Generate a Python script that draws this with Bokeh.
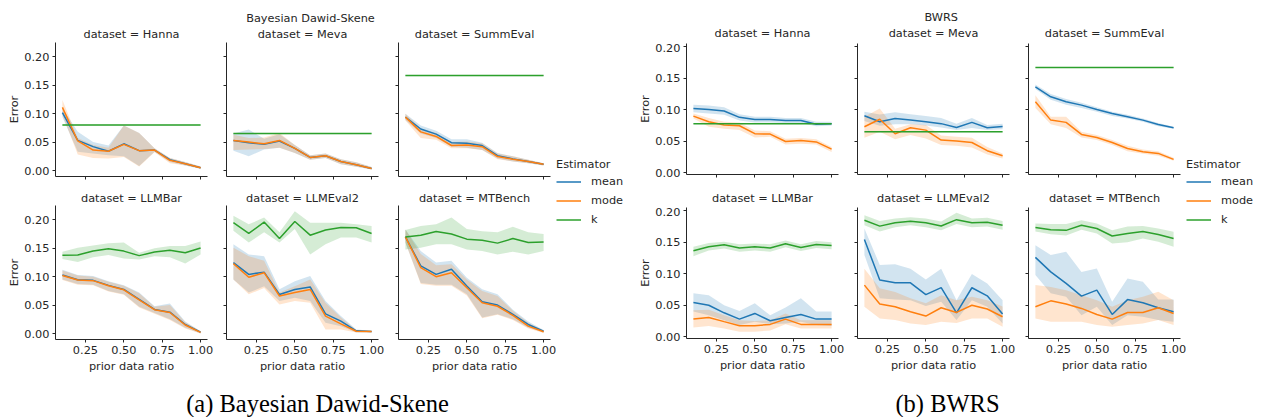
from bokeh.plotting import figure
from bokeh.models import (Range1d, FixedTicker, NumeralTickFormatter, CustomJSTickFormatter,
                          Label, Legend, LegendItem, ColumnDataSource)
from bokeh.layouts import row, column
from bokeh.embed import file_html
from bokeh.resources import INLINE

# ---------------- data ----------------
RATIO = [0.1, 0.2, 0.3, 0.4, 0.5, 0.6, 0.7, 0.8, 0.9, 1.0]
ESTIMATORS = ["mean", "mode", "k"]
X_TICKS = [0.25, 0.5, 0.75, 1.0]
Y_TICKS = [0.0, 0.05, 0.10, 0.15, 0.20]
DATASETS_TOP = ["Hanna", "Meva", "SummEval"]
DATASETS_BOTTOM = ["LLMBar", "LLMEval2", "MTBench"]

# (a) Bayesian Dawid-Skene
A_HANNA_MEAN = [0.102, 0.053, 0.042, 0.034, 0.047, 0.035, 0.036, 0.019, 0.012, 0.005]
A_HANNA_MEAN_LO = [0.094, 0.033, 0.030, 0.027, 0.025, 0.008, 0.033, 0.015, 0.009, 0.003]
A_HANNA_MEAN_HI = [0.110, 0.068, 0.050, 0.044, 0.079, 0.066, 0.039, 0.022, 0.015, 0.007]
A_HANNA_MODE = [0.111, 0.052, 0.036, 0.034, 0.046, 0.035, 0.036, 0.018, 0.012, 0.005]
A_HANNA_MODE_LO = [0.098, 0.028, 0.022, 0.021, 0.024, 0.007, 0.032, 0.013, 0.009, 0.003]
A_HANNA_MODE_HI = [0.124, 0.057, 0.045, 0.040, 0.079, 0.066, 0.039, 0.022, 0.015, 0.007]
A_HANNA_K = [0.080, 0.080, 0.080, 0.080, 0.080, 0.080, 0.080, 0.080, 0.080, 0.080]
A_HANNA_K_LO = [0.079, 0.079, 0.079, 0.079, 0.079, 0.079, 0.079, 0.079, 0.079, 0.079]
A_HANNA_K_HI = [0.081, 0.081, 0.081, 0.081, 0.081, 0.081, 0.081, 0.081, 0.081, 0.081]

A_MEVA_MEAN = [0.053, 0.049, 0.046, 0.052, 0.039, 0.023, 0.026, 0.016, 0.010, 0.0035]
A_MEVA_MEAN_LO = [0.035, 0.025, 0.037, 0.040, 0.031, 0.019, 0.022, 0.011, 0.0065, 0.002]
A_MEVA_MEAN_HI = [0.065, 0.072, 0.056, 0.064, 0.045, 0.027, 0.030, 0.020, 0.0145, 0.006]
A_MEVA_MODE = [0.053, 0.050, 0.047, 0.053, 0.039, 0.023, 0.026, 0.016, 0.010, 0.0035]
A_MEVA_MODE_LO = [0.036, 0.037, 0.038, 0.040, 0.031, 0.019, 0.022, 0.011, 0.0065, 0.002]
A_MEVA_MODE_HI = [0.063, 0.057, 0.058, 0.066, 0.045, 0.027, 0.030, 0.020, 0.0145, 0.006]
A_MEVA_K = [0.065, 0.065, 0.065, 0.065, 0.065, 0.065, 0.065, 0.065, 0.065, 0.065]
A_MEVA_K_LO = [0.064, 0.064, 0.064, 0.064, 0.064, 0.064, 0.064, 0.064, 0.064, 0.064]
A_MEVA_K_HI = [0.066, 0.066, 0.066, 0.066, 0.066, 0.066, 0.066, 0.066, 0.066, 0.066]

A_SUMM_MEAN = [0.094, 0.073, 0.064, 0.049, 0.048, 0.044, 0.026, 0.0205, 0.0158, 0.011]
A_SUMM_MEAN_LO = [0.089, 0.065, 0.057, 0.042, 0.040, 0.036, 0.021, 0.016, 0.013, 0.009]
A_SUMM_MEAN_HI = [0.100, 0.079, 0.070, 0.055, 0.055, 0.049, 0.031, 0.025, 0.019, 0.013]
A_SUMM_MODE = [0.094, 0.068, 0.060, 0.044, 0.045, 0.042, 0.0246, 0.020, 0.016, 0.011]
A_SUMM_MODE_LO = [0.088, 0.057, 0.054, 0.039, 0.039, 0.036, 0.020, 0.016, 0.013, 0.009]
A_SUMM_MODE_HI = [0.100, 0.074, 0.066, 0.050, 0.051, 0.048, 0.030, 0.025, 0.019, 0.013]
A_SUMM_K = [0.167, 0.167, 0.167, 0.167, 0.167, 0.167, 0.167, 0.167, 0.167, 0.167]
A_SUMM_K_LO = [0.166, 0.166, 0.166, 0.166, 0.166, 0.166, 0.166, 0.166, 0.166, 0.166]
A_SUMM_K_HI = [0.168, 0.168, 0.168, 0.168, 0.168, 0.168, 0.168, 0.168, 0.168, 0.168]

A_LLMBAR_MEAN = [0.103, 0.0947, 0.0935, 0.0847, 0.0776, 0.060, 0.0424, 0.0376, 0.0159, 0.0024]
A_LLMBAR_MEAN_LO = [0.095, 0.087, 0.086, 0.075, 0.069, 0.047, 0.036, 0.025, 0.010, 0.000]
A_LLMBAR_MEAN_HI = [0.112, 0.103, 0.101, 0.092, 0.085, 0.072, 0.048, 0.053, 0.021, 0.004]
A_LLMBAR_MODE = [0.102, 0.094, 0.093, 0.084, 0.077, 0.059, 0.042, 0.037, 0.015, 0.002]
A_LLMBAR_MODE_LO = [0.094, 0.086, 0.085, 0.074, 0.068, 0.046, 0.035, 0.024, 0.009, 0.000]
A_LLMBAR_MODE_HI = [0.111, 0.102, 0.100, 0.091, 0.084, 0.071, 0.047, 0.050, 0.020, 0.004]
A_LLMBAR_K = [0.1376, 0.138, 0.145, 0.149, 0.145, 0.137, 0.1435, 0.1465, 0.142, 0.1506]
A_LLMBAR_K_LO = [0.131, 0.126, 0.134, 0.138, 0.132, 0.130, 0.136, 0.134, 0.123, 0.139]
A_LLMBAR_K_HI = [0.144, 0.151, 0.155, 0.159, 0.160, 0.142, 0.150, 0.154, 0.154, 0.162]

A_LLMEVAL2_MEAN = [0.1247, 0.104, 0.108, 0.0688, 0.0776, 0.082, 0.0347, 0.0218, 0.0047, 0.0035]
A_LLMEVAL2_MEAN_LO = [0.095, 0.072, 0.083, 0.057, 0.063, 0.057, 0.019, 0.013, 0.002, 0.002]
A_LLMEVAL2_MEAN_HI = [0.157, 0.139, 0.136, 0.078, 0.092, 0.101, 0.057, 0.031, 0.007, 0.005]
A_LLMEVAL2_MODE = [0.123, 0.099, 0.107, 0.066, 0.072, 0.0776, 0.0306, 0.017, 0.004, 0.0035]
A_LLMEVAL2_MODE_LO = [0.095, 0.069, 0.080, 0.051, 0.057, 0.054, 0.007, 0.007, 0.002, 0.002]
A_LLMEVAL2_MODE_HI = [0.151, 0.136, 0.128, 0.072, 0.083, 0.095, 0.054, 0.028, 0.006, 0.005]
A_LLMEVAL2_K = [0.195, 0.176, 0.196, 0.167, 0.197, 0.173, 0.182, 0.1865, 0.186, 0.176]
A_LLMEVAL2_K_LO = [0.181, 0.160, 0.178, 0.160, 0.184, 0.139, 0.157, 0.169, 0.169, 0.160]
A_LLMEVAL2_K_HI = [0.207, 0.192, 0.204, 0.178, 0.215, 0.195, 0.195, 0.195, 0.192, 0.189]

A_MTBENCH_MEAN = [0.170, 0.119, 0.104, 0.113, 0.0835, 0.056, 0.050, 0.0335, 0.0159, 0.004]
A_MTBENCH_MEAN_LO = [0.160, 0.089, 0.086, 0.086, 0.069, 0.028, 0.034, 0.025, 0.010, 0.002]
A_MTBENCH_MEAN_HI = [0.183, 0.145, 0.125, 0.128, 0.098, 0.078, 0.069, 0.042, 0.021, 0.006]
A_MTBENCH_MODE = [0.170, 0.116, 0.100, 0.107, 0.0806, 0.054, 0.048, 0.0318, 0.013, 0.003]
A_MTBENCH_MODE_LO = [0.160, 0.087, 0.084, 0.084, 0.067, 0.027, 0.033, 0.024, 0.009, 0.001]
A_MTBENCH_MODE_HI = [0.183, 0.140, 0.120, 0.122, 0.095, 0.075, 0.066, 0.040, 0.019, 0.005]
A_MTBENCH_K = [0.170, 0.173, 0.1794, 0.175, 0.166, 0.164, 0.159, 0.167, 0.160, 0.161]
A_MTBENCH_K_LO = [0.148, 0.151, 0.157, 0.157, 0.148, 0.145, 0.139, 0.144, 0.139, 0.145]
A_MTBENCH_K_HI = [0.182, 0.189, 0.192, 0.204, 0.184, 0.180, 0.178, 0.188, 0.178, 0.175]

# (b) BWRS
B_HANNA_MEAN = [0.102, 0.1005, 0.098, 0.088, 0.0847, 0.0847, 0.083, 0.083, 0.077, 0.078]
B_HANNA_MEAN_LO = [0.096, 0.094, 0.092, 0.083, 0.080, 0.080, 0.079, 0.079, 0.074, 0.075]
B_HANNA_MEAN_HI = [0.108, 0.107, 0.104, 0.093, 0.089, 0.089, 0.087, 0.087, 0.081, 0.081]
B_HANNA_MODE = [0.090, 0.081, 0.0757, 0.0746, 0.062, 0.0614, 0.0497, 0.0513, 0.049, 0.0376]
B_HANNA_MODE_LO = [0.086, 0.073, 0.070, 0.068, 0.056, 0.057, 0.045, 0.046, 0.045, 0.033]
B_HANNA_MODE_HI = [0.094, 0.087, 0.081, 0.080, 0.067, 0.066, 0.054, 0.055, 0.053, 0.041]
B_HANNA_K = [0.078, 0.078, 0.078, 0.078, 0.078, 0.078, 0.078, 0.078, 0.078, 0.078]
B_HANNA_K_LO = [0.0775, 0.0775, 0.0775, 0.0775, 0.0775, 0.0775, 0.0775, 0.0775, 0.0775, 0.0775]
B_HANNA_K_HI = [0.0785, 0.0785, 0.0785, 0.0785, 0.0785, 0.0785, 0.0785, 0.0785, 0.0785, 0.0785]

B_MEVA_MEAN = [0.0905, 0.081, 0.086, 0.0836, 0.081, 0.078, 0.072, 0.080, 0.0714, 0.0735]
B_MEVA_MEAN_LO = [0.082, 0.0746, 0.077, 0.077, 0.075, 0.072, 0.068, 0.071, 0.068, 0.069]
B_MEVA_MEAN_HI = [0.097, 0.0926, 0.096, 0.093, 0.090, 0.087, 0.078, 0.087, 0.076, 0.078]
B_MEVA_MODE = [0.073, 0.085, 0.062, 0.0714, 0.0677, 0.0519, 0.0503, 0.048, 0.035, 0.027]
B_MEVA_MODE_LO = [0.0556, 0.065, 0.053, 0.060, 0.0545, 0.044, 0.043, 0.040, 0.029, 0.0227]
B_MEVA_MODE_HI = [0.089, 0.102, 0.070, 0.077, 0.0757, 0.059, 0.057, 0.0556, 0.041, 0.0307]
B_MEVA_K = [0.065, 0.065, 0.065, 0.065, 0.065, 0.065, 0.065, 0.065, 0.065, 0.065]
B_MEVA_K_LO = [0.0645, 0.0645, 0.0645, 0.0645, 0.0645, 0.0645, 0.0645, 0.0645, 0.0645, 0.0645]
B_MEVA_K_HI = [0.0655, 0.0655, 0.0655, 0.0655, 0.0655, 0.0655, 0.0655, 0.0655, 0.0655, 0.0655]

B_SUMM_MEAN = [0.1365, 0.1206, 0.1127, 0.1074, 0.1005, 0.094, 0.089, 0.0836, 0.0767, 0.0714]
B_SUMM_MEAN_LO = [0.133, 0.116, 0.108, 0.103, 0.097, 0.090, 0.086, 0.081, 0.074, 0.070]
B_SUMM_MEAN_HI = [0.140, 0.125, 0.117, 0.111, 0.104, 0.097, 0.092, 0.086, 0.079, 0.073]
B_SUMM_MODE = [0.1127, 0.0836, 0.080, 0.0608, 0.056, 0.048, 0.0386, 0.0333, 0.0307, 0.0212]
B_SUMM_MODE_LO = [0.103, 0.077, 0.071, 0.056, 0.052, 0.044, 0.034, 0.030, 0.027, 0.019]
B_SUMM_MODE_HI = [0.123, 0.089, 0.089, 0.065, 0.060, 0.052, 0.043, 0.037, 0.034, 0.024]
B_SUMM_K = [0.167, 0.167, 0.167, 0.167, 0.167, 0.167, 0.167, 0.167, 0.167, 0.167]
B_SUMM_K_LO = [0.1665, 0.1665, 0.1665, 0.1665, 0.1665, 0.1665, 0.1665, 0.1665, 0.1665, 0.1665]
B_SUMM_K_HI = [0.1675, 0.1675, 0.1675, 0.1675, 0.1675, 0.1675, 0.1675, 0.1675, 0.1675, 0.1675]

B_LLMBAR_MEAN = [0.0545, 0.050, 0.038, 0.028, 0.037, 0.0254, 0.0307, 0.0354, 0.028, 0.028]
B_LLMBAR_MEAN_LO = [0.040, 0.034, 0.026, 0.0185, 0.024, 0.020, 0.021, 0.024, 0.0185, 0.017]
B_LLMBAR_MEAN_HI = [0.069, 0.066, 0.050, 0.041, 0.053, 0.034, 0.0466, 0.061, 0.040, 0.040]
B_LLMBAR_MODE = [0.028, 0.0307, 0.024, 0.0175, 0.0175, 0.0196, 0.028, 0.0196, 0.0196, 0.0196]
B_LLMBAR_MODE_LO = [0.0148, 0.017, 0.013, 0.008, 0.008, 0.010, 0.020, 0.013, 0.013, 0.013]
B_LLMBAR_MODE_HI = [0.042, 0.043, 0.034, 0.026, 0.025, 0.026, 0.037, 0.026, 0.026, 0.026]
B_LLMBAR_K = [0.1365, 0.143, 0.146, 0.141, 0.143, 0.141, 0.1476, 0.1418, 0.1466, 0.145]
B_LLMBAR_K_LO = [0.128, 0.137, 0.140, 0.135, 0.137, 0.135, 0.142, 0.136, 0.141, 0.139]
B_LLMBAR_K_HI = [0.143, 0.149, 0.151, 0.147, 0.148, 0.147, 0.153, 0.147, 0.152, 0.150]

B_LLMEVAL2_MEAN = [0.1545, 0.090, 0.0857, 0.0857, 0.067, 0.078, 0.038, 0.0778, 0.065, 0.036]
B_LLMEVAL2_MEAN_LO = [0.130, 0.061, 0.059, 0.058, 0.0487, 0.0556, 0.0265, 0.058, 0.0476, 0.021]
B_LLMEVAL2_MEAN_HI = [0.172, 0.114, 0.115, 0.108, 0.091, 0.108, 0.058, 0.0995, 0.0847, 0.058]
B_LLMEVAL2_MODE = [0.082, 0.052, 0.0476, 0.0397, 0.0328, 0.046, 0.0386, 0.050, 0.044, 0.0317]
B_LLMEVAL2_MODE_LO = [0.0476, 0.029, 0.0265, 0.021, 0.0185, 0.024, 0.022, 0.029, 0.029, 0.016]
B_LLMEVAL2_MODE_HI = [0.108, 0.077, 0.071, 0.061, 0.053, 0.066, 0.058, 0.0635, 0.058, 0.048]
B_LLMEVAL2_K = [0.185, 0.1757, 0.181, 0.1836, 0.181, 0.176, 0.186, 0.181, 0.182, 0.1772]
B_LLMEVAL2_K_LO = [0.177, 0.167, 0.174, 0.177, 0.174, 0.169, 0.179, 0.174, 0.175, 0.170]
B_LLMEVAL2_K_HI = [0.193, 0.184, 0.188, 0.190, 0.188, 0.183, 0.197, 0.188, 0.189, 0.184]

B_MTBENCH_MEAN = [0.126, 0.103, 0.0847, 0.0645, 0.074, 0.0354, 0.059, 0.054, 0.046, 0.0397]
B_MTBENCH_MEAN_LO = [0.098, 0.069, 0.0635, 0.034, 0.0476, 0.0185, 0.034, 0.0317, 0.0265, 0.024]
B_MTBENCH_MEAN_HI = [0.1455, 0.130, 0.135, 0.103, 0.1085, 0.0556, 0.0926, 0.0873, 0.059, 0.059]
B_MTBENCH_MODE = [0.0476, 0.057, 0.052, 0.045, 0.0354, 0.028, 0.0386, 0.0386, 0.046, 0.037]
B_MTBENCH_MODE_LO = [0.029, 0.024, 0.024, 0.024, 0.0185, 0.016, 0.0185, 0.021, 0.0265, 0.0185]
B_MTBENCH_MODE_HI = [0.082, 0.079, 0.074, 0.066, 0.058, 0.0476, 0.058, 0.0635, 0.0714, 0.058]
B_MTBENCH_K = [0.1735, 0.170, 0.169, 0.177, 0.172, 0.160, 0.164, 0.167, 0.1624, 0.156]
B_MTBENCH_K_LO = [0.167, 0.163, 0.161, 0.170, 0.164, 0.148, 0.150, 0.156, 0.151, 0.143]
B_MTBENCH_K_HI = [0.180, 0.179, 0.179, 0.185, 0.180, 0.169, 0.175, 0.176, 0.172, 0.1667]

# ---------------- style ----------------
FONT = "DejaVu Sans"
FS = "11.3px"
TXT = "#262626"
COLORS = {"mean": "#1f77b4", "mode": "#ff7f0e", "k": "#2ca02c"}
BLANK = CustomJSTickFormatter(code="return ''")
FW = 152


def series(mean, mlo, mhi, mode, olo, ohi, k, klo, khi):
    return {"mean": (mean, mlo, mhi), "mode": (mode, olo, ohi), "k": (k, klo, khi)}


def facet(data, yr, fh, bl, br, bb, ylab, xlab):
    p = figure(frame_width=FW, frame_height=fh,
               x_range=Range1d(0.055, 1.045), y_range=Range1d(*yr),
               output_backend="svg", toolbar_location=None,
               min_border_left=bl, min_border_right=br,
               min_border_top=0, min_border_bottom=bb)
    p.outline_line_color = None
    p.grid.visible = False
    p.background_fill_color = "white"
    p.border_fill_color = "white"
    for est in ESTIMATORS:
        val, lo, hi = data[est]
        src = ColumnDataSource(dict(x=RATIO, y=val, lo=lo, hi=hi))
        p.varea(x="x", y1="lo", y2="hi", source=src, fill_color=COLORS[est], fill_alpha=0.2)
    for est in ESTIMATORS:
        val, lo, hi = data[est]
        src = ColumnDataSource(dict(x=RATIO, y=val))
        p.line(x="x", y="y", source=src, line_color=COLORS[est], line_width=1.5)

    xa = p.xaxis[0]
    ya = p.yaxis[0]
    for ax in (xa, ya):
        ax.axis_line_color = TXT
        ax.axis_line_width = 1
        ax.major_tick_line_color = TXT
        ax.major_tick_line_width = 1
        ax.major_tick_out = 3
        ax.major_tick_in = 0
        ax.minor_tick_out = 0
        ax.minor_tick_in = 0
        ax.major_label_text_font = FONT
        ax.major_label_text_font_size = FS
        ax.major_label_text_color = TXT
        ax.axis_label_text_font = FONT
        ax.axis_label_text_font_size = FS
        ax.axis_label_text_font_style = "normal"
        ax.axis_label_text_color = TXT
    xa.ticker = FixedTicker(ticks=X_TICKS)
    ya.ticker = FixedTicker(ticks=Y_TICKS)
    xa.major_label_standoff = 3
    ya.major_label_standoff = 3
    xa.axis_label_standoff = 3
    ya.axis_label_standoff = 0
    if xlab:
        xa.formatter = NumeralTickFormatter(format="0.00")
        xa.axis_label = "prior data ratio"
    else:
        xa.formatter = BLANK
    if ylab:
        ya.formatter = NumeralTickFormatter(format="0.00")
        ya.axis_label = "Error"
    else:
        ya.formatter = BLANK
    return p


def blank_fig(w, h):
    p = figure(width=w, height=h, x_range=Range1d(0, 1), y_range=Range1d(0, 1),
               output_backend="svg", toolbar_location=None,
               x_axis_location=None, y_axis_location=None, min_border=0)
    p.outline_line_color = None
    p.grid.visible = False
    return p


def add_text(p, text, x, y, font=FONT, size=FS, color=TXT):
    # y is the vertical middle of the text, measured up from the canvas bottom
    p.add_layout(Label(x=x, y=y, x_units="screen", y_units="screen", text=text,
                       text_align="center", text_baseline="middle",
                       text_font=font, text_font_size=size, text_color=color))


def title_strip(w, h, names, centers, mid, sup=None, sup_x=0, sup_y=0):
    p = blank_fig(w, h)
    for name, cx in zip(names, centers):
        add_text(p, "dataset = " + name, cx, mid)
    if sup:
        add_text(p, sup, sup_x, sup_y)
    return p


def legend_fig(w, h, vy):
    p = blank_fig(w, h)
    items = []
    for est in ESTIMATORS:
        r = p.line(x=[5, 6], y=[5, 6], line_color=COLORS[est], line_width=1.5)
        items.append(LegendItem(label=est, renderers=[r]))
    leg = Legend(items=items, title="Estimator", location=(0, vy), orientation="vertical",
                 border_line_color=None, background_fill_alpha=0, padding=0, margin=0,
                 spacing=0, label_height=19, glyph_height=19, glyph_width=25,
                 label_standoff=10, title_standoff=1,
                 label_text_font=FONT, label_text_font_size=FS, label_text_color=TXT,
                 title_text_font=FONT, title_text_font_size=FS, title_text_color=TXT,
                 title_text_font_style="normal")
    p.add_layout(leg)
    return p


def caption_fig(w, h, text, cx):
    p = blank_fig(w, h)
    add_text(p, text, cx, 14, font="Liberation Serif", size="24.5px", color="black")
    return p


# ---------------- panel (a) ----------------
YA = (-0.0105, 0.2252)
a1 = facet(series(A_HANNA_MEAN, A_HANNA_MEAN_LO, A_HANNA_MEAN_HI, A_HANNA_MODE, A_HANNA_MODE_LO, A_HANNA_MODE_HI,
                  A_HANNA_K, A_HANNA_K_LO, A_HANNA_K_HI), YA, 134, 55, 9, 10, True, False)
a2 = facet(series(A_MEVA_MEAN, A_MEVA_MEAN_LO, A_MEVA_MEAN_HI, A_MEVA_MODE, A_MEVA_MODE_LO, A_MEVA_MODE_HI,
                  A_MEVA_K, A_MEVA_K_LO, A_MEVA_K_HI), YA, 134, 10, 9, 10, False, False)
a3 = facet(series(A_SUMM_MEAN, A_SUMM_MEAN_LO, A_SUMM_MEAN_HI, A_SUMM_MODE, A_SUMM_MODE_LO, A_SUMM_MODE_HI,
                  A_SUMM_K, A_SUMM_K_LO, A_SUMM_K_HI), YA, 134, 11, 6, 10, False, False)
a4 = facet(series(A_LLMBAR_MEAN, A_LLMBAR_MEAN_LO, A_LLMBAR_MEAN_HI, A_LLMBAR_MODE, A_LLMBAR_MODE_LO, A_LLMBAR_MODE_HI,
                  A_LLMBAR_K, A_LLMBAR_K_LO, A_LLMBAR_K_HI), YA, 134, 55, 9, 37, True, True)
a5 = facet(series(A_LLMEVAL2_MEAN, A_LLMEVAL2_MEAN_LO, A_LLMEVAL2_MEAN_HI, A_LLMEVAL2_MODE, A_LLMEVAL2_MODE_LO,
                  A_LLMEVAL2_MODE_HI, A_LLMEVAL2_K, A_LLMEVAL2_K_LO, A_LLMEVAL2_K_HI), YA, 134, 10, 9, 37, False, True)
a6 = facet(series(A_MTBENCH_MEAN, A_MTBENCH_MEAN_LO, A_MTBENCH_MEAN_HI, A_MTBENCH_MODE, A_MTBENCH_MODE_LO,
                  A_MTBENCH_MODE_HI, A_MTBENCH_K, A_MTBENCH_K_LO, A_MTBENCH_K_HI), YA, 134, 11, 6, 37, False, True)
A_CENTERS = [131, 302, 474]
stripA1 = title_strip(556, 42, DATASETS_TOP, A_CENTERS, 42 - 34.2,
                      sup="Bayesian Dawid-Skene", sup_x=310, sup_y=42 - 17.6)
stripA2 = title_strip(556, 19, DATASETS_BOTTOM, A_CENTERS, 19 - 11.7)
legA = legend_fig(78, 376, 147)
capA = caption_fig(634, 41, "(a) Bayesian Dawid-Skene", 317)
panelA = column(row(column(stripA1, row(a1, a2, a3), stripA2, row(a4, a5, a6)), legA), capA)

# ---------------- panel (b) ----------------
YB = (-0.0028, 0.2053)
b1 = facet(series(B_HANNA_MEAN, B_HANNA_MEAN_LO, B_HANNA_MEAN_HI, B_HANNA_MODE, B_HANNA_MODE_LO, B_HANNA_MODE_HI,
                  B_HANNA_K, B_HANNA_K_LO, B_HANNA_K_HI), YB, 131, 52, 9, 12, True, False)
b2 = facet(series(B_MEVA_MEAN, B_MEVA_MEAN_LO, B_MEVA_MEAN_HI, B_MEVA_MODE, B_MEVA_MODE_LO, B_MEVA_MODE_HI,
                  B_MEVA_K, B_MEVA_K_LO, B_MEVA_K_HI), YB, 131, 10, 9, 12, False, False)
b3 = facet(series(B_SUMM_MEAN, B_SUMM_MEAN_LO, B_SUMM_MEAN_HI, B_SUMM_MODE, B_SUMM_MODE_LO, B_SUMM_MODE_HI,
                  B_SUMM_K, B_SUMM_K_LO, B_SUMM_K_HI), YB, 131, 10, 6, 12, False, False)
b4 = facet(series(B_LLMBAR_MEAN, B_LLMBAR_MEAN_LO, B_LLMBAR_MEAN_HI, B_LLMBAR_MODE, B_LLMBAR_MODE_LO, B_LLMBAR_MODE_HI,
                  B_LLMBAR_K, B_LLMBAR_K_LO, B_LLMBAR_K_HI), YB, 131, 52, 9, 38, True, True)
b5 = facet(series(B_LLMEVAL2_MEAN, B_LLMEVAL2_MEAN_LO, B_LLMEVAL2_MEAN_HI, B_LLMEVAL2_MODE, B_LLMEVAL2_MODE_LO,
                  B_LLMEVAL2_MODE_HI, B_LLMEVAL2_K, B_LLMEVAL2_K_LO, B_LLMEVAL2_K_HI), YB, 131, 10, 9, 38, False, True)
b6 = facet(series(B_MTBENCH_MEAN, B_MTBENCH_MEAN_LO, B_MTBENCH_MEAN_HI, B_MTBENCH_MODE, B_MTBENCH_MODE_LO,
                  B_MTBENCH_MODE_HI, B_MTBENCH_K, B_MTBENCH_K_LO, B_MTBENCH_K_HI), YB, 131, 10, 6, 38, False, True)
B_CENTERS = [128, 299, 470]
stripB1 = title_strip(552, 43, DATASETS_TOP, B_CENTERS, 43 - 33.3,
                      sup="BWRS", sup_x=306.7, sup_y=43 - 16.7)
stripB2 = title_strip(552, 21, DATASETS_BOTTOM, B_CENTERS, 21 - 12)
legB = legend_fig(70, 376, 147)
capB = caption_fig(622, 41, "(b) BWRS", 313)
panelB = column(row(column(stripB1, row(b1, b2, b3), stripB2, row(b4, b5, b6)), legB), capB)

layout = row(panelA, panelB)
open("out.html", "w").write(file_html(layout, INLINE))
